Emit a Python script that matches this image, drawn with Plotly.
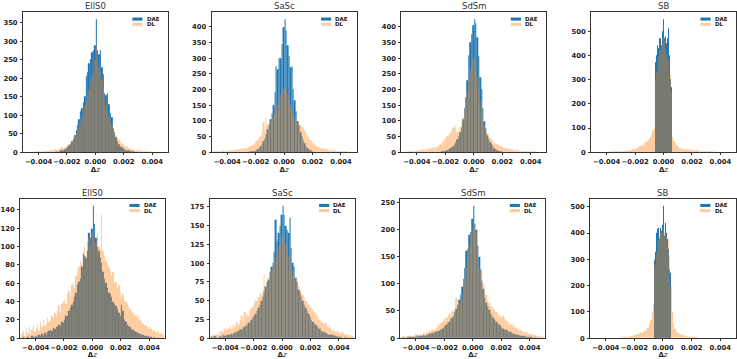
import plotly.graph_objects as go

# ---------------- data ----------------
panel_titles = ["EllS0", "SaSc", "SdSm", "SB", "EllS0", "SaSc", "SdSm", "SB"]
series_names = ["DAE", "DL"]
x_tick_vals = [-0.004, -0.002, 0.0, 0.002, 0.004]
x_tick_text = ["\u22120.004", "\u22120.002", "0.000", "0.002", "0.004"]
y_tick_steps = [50, 50, 50, 100, 20, 25, 50, 100]

# bin layout of each histogram: (left edge of first bin, bin width)
dae_ells0_top_bins = (-0.0030, 0.0001)
dae_ells0_top = [1, 1, 2, 1, 3, 4, 5, 6, 9, 11,
                 14, 18, 22, 30, 36, 45, 58, 72, 88, 110,
                 120, 135, 150, 205, 215, 240, 250, 270, 275, 290,
                 360, 275, 265, 275, 230, 210, 160, 155, 160, 130,
                 105, 95, 65, 55, 40, 30, 22, 17, 13, 10,
                 8, 6, 5, 4, 3, 2, 2, 1, 1, 1]
dl_ells0_top_bins = (-0.0050, 0.0001)
dl_ells0_top = [1, 0, 1, 1, 0, 1, 1, 2, 1, 2,
                2, 1, 3, 2, 3, 4, 3, 5, 4, 6,
                5, 7, 6, 8, 9, 10, 12, 11, 14, 16,
                18, 22, 25, 30, 36, 42, 52, 62, 70, 82,
                95, 110, 125, 140, 155, 170, 190, 205, 225, 250,
                290, 250, 230, 215, 195, 170, 145, 128, 112, 96,
                85, 74, 66, 56, 46, 40, 34, 30, 25, 22,
                18, 16, 13, 11, 10, 8, 7, 6, 5, 5,
                4, 4, 3, 3, 2, 3, 2, 2, 1, 2,
                1, 1, 1, 0, 1, 1, 0, 1, 0, 1]

dae_sasc_top_bins = (-0.0025, 0.0001)
dae_sasc_top = [1, 2, 2, 3, 4, 6, 9, 12, 18, 25,
                35, 45, 58, 72, 90, 105, 125, 150, 190, 275,
                265, 300, 300, 345, 400, 425, 390, 340, 305, 270,
                275, 200, 165, 130, 100, 85, 65, 50, 38, 27,
                18, 12, 8, 5, 3]
dl_sasc_top_bins = (-0.0050, 0.0001)
dl_sasc_top = [2, 1, 3, 2, 4, 3, 2, 5, 4, 3,
               5, 4, 6, 5, 7, 6, 8, 9, 8, 10,
               11, 12, 14, 13, 16, 18, 20, 22, 26, 30,
               34, 38, 45, 52, 60, 95, 70, 110, 85, 90,
               100, 110, 120, 130, 140, 150, 165, 180, 195, 205,
               210, 200, 185, 170, 150, 135, 120, 110, 100, 95,
               90, 85, 80, 78, 70, 60, 52, 45, 38, 32,
               28, 24, 20, 18, 16, 14, 12, 11, 10, 9,
               8, 7, 7, 6, 5, 5, 4, 4, 3, 3,
               3, 2, 3, 2, 2, 1, 2, 1, 1, 1]

dae_sdsm_top_bins = (-0.0025, 0.0001)
dae_sdsm_top = [1, 1, 2, 3, 4, 5, 7, 9, 12, 15,
                20, 25, 32, 40, 50, 62, 80, 105, 140, 175,
                230, 310, 350, 375, 405, 425, 410, 365, 305, 240,
                200, 140, 100, 75, 55, 42, 32, 24, 18, 13,
                9, 6, 4, 3, 2]
dl_sdsm_top_bins = (-0.0050, 0.0001)
dl_sdsm_top = [1, 2, 1, 2, 3, 2, 3, 4, 3, 5,
               4, 6, 5, 7, 8, 7, 9, 10, 12, 11,
               13, 15, 14, 17, 20, 22, 25, 30, 35, 40,
               45, 50, 55, 60, 70, 80, 75, 85, 65, 70,
               80, 95, 110, 135, 160, 190, 225, 260, 290, 300,
               300, 275, 240, 200, 160, 130, 105, 85, 70, 60,
               52, 46, 40, 35, 30, 26, 24, 22, 20, 18,
               16, 14, 12, 11, 10, 9, 8, 8, 7, 6,
               5, 5, 4, 4, 3, 4, 3, 2, 3, 2,
               2, 1, 2, 1, 1, 1, 1, 0, 1, 1]

dae_sb_top_bins = (-0.000625, 0.00005)
dae_sb_top = [330, 370, 400, 420, 440, 430, 470, 450, 470, 440,
              460, 500, 550, 470, 460, 480, 450, 420, 470, 510,
              400, 380, 300, 270, 240]
dl_sb_top_bins = (-0.0050, 0.0001)
dl_sb_top = [0, 1, 0, 1, 0, 1, 1, 0, 1, 1,
             1, 2, 1, 2, 2, 3, 2, 3, 3, 4,
             4, 5, 4, 6, 5, 7, 8, 10, 12, 11,
             14, 18, 22, 25, 32, 28, 35, 40, 45, 50,
             60, 75, 90, 100, 300, 330, 390, 420, 440, 470,
             460, 430, 400, 380, 320, 250, 60, 45, 35, 28,
             22, 18, 15, 13, 12, 14, 12, 10, 11, 9,
             8, 7, 8, 6, 6, 5, 5, 4, 4, 3,
             3, 2, 2, 2, 1, 2, 1, 1, 1, 0,
             1, 0, 1, 0, 0, 1, 0, 0, 0, 0]

dae_ells0_bot_bins = (-0.0050, 0.0001)
dae_ells0_bot = [1, 2, 0, 1, 2, 1, 1, 3, 2, 2,
                 3, 2, 4, 3, 5, 3, 6, 4, 7, 8,
                 9, 8, 11, 10, 13, 12, 15, 14, 18, 17,
                 20, 25, 24, 30, 33, 36, 40, 45, 50, 58,
                 62, 65, 78, 92, 90, 88, 95, 115, 110, 120,
                 145, 125, 110, 100, 95, 88, 82, 72, 65, 60,
                 55, 50, 48, 45, 40, 38, 35, 32, 28, 24,
                 36, 30, 20, 18, 15, 14, 12, 10, 9, 8,
                 7, 6, 6, 5, 4, 4, 3, 3, 2, 3,
                 2, 2, 1, 2, 1, 1, 1, 0, 1, 1]
dl_ells0_bot_bins = (-0.0050, 0.0001)
dl_ells0_bot = [5, 8, 3, 10, 6, 12, 4, 9, 14, 7,
                10, 15, 8, 18, 12, 20, 14, 16, 22, 18,
                20, 25, 22, 28, 24, 30, 35, 28, 38, 40,
                42, 38, 48, 52, 45, 58, 60, 55, 68, 72,
                78, 85, 80, 95, 100, 90, 105, 110, 100, 115,
                120, 110, 105, 115, 100, 98, 135, 95, 90, 85,
                82, 78, 75, 68, 72, 60, 62, 55, 58, 50,
                45, 48, 42, 40, 38, 35, 32, 30, 28, 25,
                26, 22, 24, 20, 18, 16, 15, 14, 12, 10,
                12, 10, 8, 9, 7, 6, 8, 5, 6, 4]

dae_sasc_bot_bins = (-0.0050, 0.0001)
dae_sasc_bot = [2, 1, 3, 2, 1, 2, 3, 2, 4, 3,
                3, 4, 5, 4, 6, 5, 7, 8, 9, 10,
                12, 11, 14, 15, 18, 17, 20, 22, 25, 28,
                30, 33, 36, 40, 45, 50, 55, 62, 68, 75,
                78, 88, 95, 100, 115, 158, 130, 140, 150, 165,
                177, 165, 150, 145, 140, 160, 120, 100, 95, 80,
                75, 65, 60, 55, 50, 45, 40, 36, 32, 28,
                25, 22, 20, 18, 16, 14, 12, 10, 9, 8,
                7, 6, 5, 5, 4, 4, 3, 3, 2, 2,
                2, 2, 1, 1, 2, 1, 1, 1, 0, 1]
dl_sasc_bot_bins = (-0.0050, 0.0001)
dl_sasc_bot = [3, 5, 2, 6, 4, 8, 5, 10, 7, 12,
               10, 14, 12, 16, 13, 18, 15, 20, 22, 18,
               25, 30, 22, 35, 28, 32, 30, 38, 40, 42,
               45, 50, 48, 55, 60, 58, 65, 85, 70, 75,
               80, 85, 90, 95, 100, 105, 110, 120, 125, 135,
               140, 130, 125, 120, 110, 100, 95, 90, 85, 80,
               75, 70, 65, 62, 58, 55, 50, 48, 45, 42,
               40, 38, 35, 32, 30, 28, 25, 22, 20, 18,
               20, 16, 15, 14, 12, 10, 12, 9, 8, 10,
               7, 6, 8, 5, 6, 4, 5, 3, 4, 3]

dae_sdsm_bot_bins = (-0.0050, 0.0001)
dae_sdsm_bot = [1, 2, 1, 1, 3, 2, 2, 3, 2, 3,
                4, 3, 4, 5, 4, 6, 5, 7, 6, 8,
                8, 10, 9, 12, 11, 14, 13, 16, 18, 20,
                22, 25, 28, 30, 35, 38, 42, 48, 55, 62,
                70, 80, 95, 110, 130, 160, 165, 190, 195, 220,
                244, 210, 200, 170, 150, 125, 105, 90, 75, 65,
                58, 52, 45, 42, 38, 34, 30, 28, 25, 22,
                20, 18, 16, 15, 13, 12, 11, 10, 9, 8,
                7, 6, 6, 5, 5, 4, 4, 3, 3, 2,
                2, 2, 1, 2, 1, 1, 1, 0, 1, 1]
dl_sdsm_bot_bins = (-0.0050, 0.0001)
dl_sdsm_bot = [2, 4, 3, 5, 2, 6, 4, 3, 5, 7,
               6, 8, 5, 9, 7, 10, 8, 12, 10, 14,
               12, 15, 18, 16, 20, 22, 25, 28, 30, 35,
               32, 38, 40, 45, 42, 50, 48, 55, 75, 60,
               65, 70, 80, 90, 105, 130, 150, 170, 190, 200,
               205, 210, 195, 160, 130, 120, 130, 100, 85, 80,
               70, 65, 60, 58, 55, 50, 48, 45, 42, 40,
               38, 42, 35, 32, 30, 28, 25, 26, 22, 20,
               20, 18, 16, 15, 13, 12, 10, 11, 9, 8,
               8, 6, 7, 5, 6, 4, 5, 3, 4, 3]

dae_sb_bot_bins = (-0.0006, 0.00005)
dae_sb_bot = [300, 330, 400, 410, 415, 420, 400, 380, 420, 410,
              400, 430, 505, 420, 390, 440, 400, 430, 380, 340,
              300, 260, 250]
dl_sb_bot_bins = (-0.0050, 0.0001)
dl_sb_bot = [0, 1, 0, 0, 1, 0, 1, 0, 1, 1,
             1, 1, 2, 1, 2, 2, 3, 2, 3, 4,
             3, 5, 4, 5, 6, 5, 7, 8, 9, 10,
             12, 14, 16, 18, 20, 22, 25, 28, 32, 40,
             55, 70, 100, 130, 280, 320, 370, 390, 400, 410,
             420, 400, 390, 370, 310, 200, 100, 60, 35, 25,
             20, 16, 14, 12, 10, 9, 8, 7, 6, 6,
             5, 5, 4, 4, 3, 3, 3, 2, 2, 2,
             2, 1, 1, 1, 1, 0, 1, 0, 0, 1,
             0, 0, 0, 1, 0, 0, 0, 0, 0, 0]

panel_series = [
    ((dae_ells0_top, dae_ells0_top_bins), (dl_ells0_top, dl_ells0_top_bins)),
    ((dae_sasc_top, dae_sasc_top_bins), (dl_sasc_top, dl_sasc_top_bins)),
    ((dae_sdsm_top, dae_sdsm_top_bins), (dl_sdsm_top, dl_sdsm_top_bins)),
    ((dae_sb_top, dae_sb_top_bins), (dl_sb_top, dl_sb_top_bins)),
    ((dae_ells0_bot, dae_ells0_bot_bins), (dl_ells0_bot, dl_ells0_bot_bins)),
    ((dae_sasc_bot, dae_sasc_bot_bins), (dl_sasc_bot, dl_sasc_bot_bins)),
    ((dae_sdsm_bot, dae_sdsm_bot_bins), (dl_sdsm_bot, dl_sdsm_bot_bins)),
    ((dae_sb_bot, dae_sb_bot_bins), (dl_sb_bot, dl_sb_bot_bins)),
]

# ---------------- layout / style ----------------
W, H = 737, 359
panel_px = [(19, 165, 12.5, 154), (209, 355, 12.5, 154), (400, 546, 12.5, 154), (591, 737, 12.5, 154),
            (16, 162, 201, 342), (207, 353, 201, 342), (399, 545, 201, 342), (590, 737, 201, 342)]
X_RANGE = [-0.0051, 0.0051]
fill_colors = ["rgb(31,119,180)", "rgba(255,127,14,0.4)"]
frame_color = "#333333"
FONT = "DejaVu Sans"

fig = go.Figure()
layout = dict(width=W, height=H, autosize=False, margin=dict(l=0, r=0, t=0, b=0),
              paper_bgcolor="white", plot_bgcolor="white", showlegend=False,
              barmode="overlay", bargap=0)
annotations = []
shapes = []

for p, ((s1, b1), (s2, b2)) in enumerate(panel_series):
    n = p + 1
    xa = "x" if n == 1 else f"x{n}"
    ya = "y" if n == 1 else f"y{n}"
    for k, (vals, (lo, w)) in enumerate([(s1, b1), (s2, b2)]):
        centers = [lo + w * (i + 0.5) for i in range(len(vals))]
        fig.add_trace(go.Bar(x=centers, y=vals, width=w, name=series_names[k],
                             marker=dict(color=fill_colors[k],
                                         line=dict(width=0.02, color=fill_colors[k])),
                             xaxis=xa, yaxis=ya))
    ymax = max(max(s1), max(s2)) * 1.05
    l, r, t, b = panel_px[p]
    xd = [l / W, min(r / W, 1.0)]
    yd = [1 - b / H, 1 - t / H]
    axis_common = dict(showgrid=False, zeroline=False, showline=True, mirror=True,
                       linecolor=frame_color, linewidth=0.8, ticks="outside", ticklen=2,
                       tickwidth=0.8, tickcolor=frame_color, tickangle=0,
                       tickfont=dict(family=FONT, size=6.8, color="#222", weight="bold"))
    layout[("xaxis" if n == 1 else f"xaxis{n}")] = dict(
        axis_common, domain=xd, anchor=ya, range=X_RANGE,
        tickvals=x_tick_vals, ticktext=x_tick_text, ticklabelstandoff=1,
        title=dict(text="<b>\u0394</b><i>z</i>", font=dict(family=FONT, size=7, color="#222"), standoff=0))
    layout[("yaxis" if n == 1 else f"yaxis{n}")] = dict(
        axis_common, domain=yd, anchor=xa, range=[0, ymax], dtick=y_tick_steps[p], tick0=0,
        ticklabelstandoff=1)
    xdom = f"{xa} domain"
    ydom = f"{ya} domain"
    annotations.append(dict(text=panel_titles[p], xref=xdom, yref=ydom, x=0.5, y=1.0,
                            xanchor="center", yanchor="bottom", yshift=-1, showarrow=False,
                            font=dict(family=FONT, size=8.5, color="#333")))
    # legend
    for k in range(2):
        yc = 0.952 - k * 0.037
        shapes.append(dict(type="rect", xref=xdom, yref=ydom, x0=0.755, x1=0.825,
                           y0=yc - 0.011, y1=yc + 0.011, line=dict(width=0),
                           fillcolor=fill_colors[k]))
        annotations.append(dict(text=f"<b>{series_names[k]}</b>", xref=xdom, yref=ydom,
                                x=0.84, y=yc, xanchor="left", yanchor="middle", showarrow=False,
                                font=dict(family=FONT, size=5.5, color="#222")))

layout["annotations"] = annotations
layout["shapes"] = shapes
fig.update_layout(**layout)
fig.write_html("out.html")
